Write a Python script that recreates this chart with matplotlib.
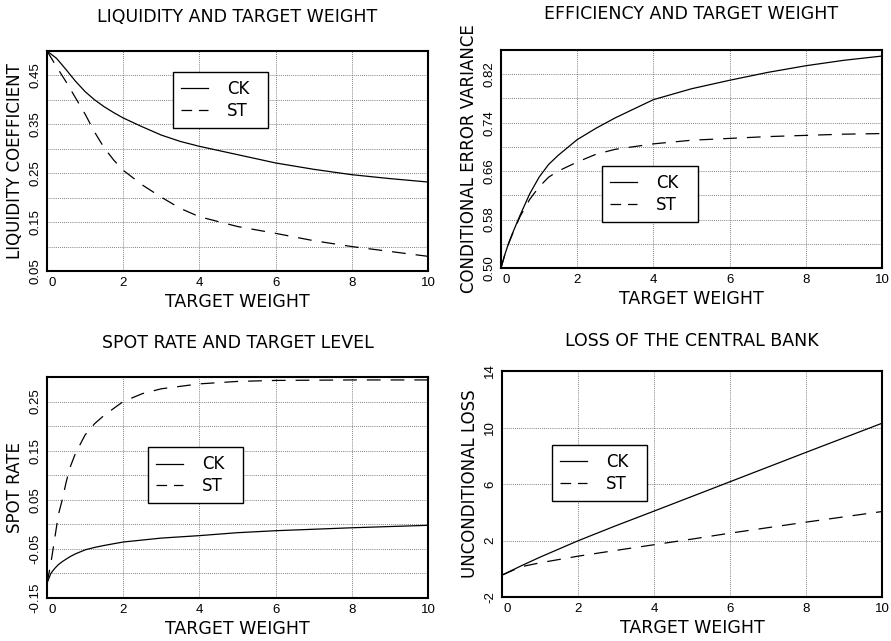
import matplotlib
matplotlib.use("Agg")
import matplotlib.pyplot as plt
import matplotlib.transforms as mtrans
import numpy as np
from matplotlib.ticker import FixedLocator

plt.rcParams['font.family'] = ['DejaVu Sans']

W, H = 891, 641

# ---- data ----
x_liq = [0, 0.25, 0.5, 0.75, 1, 1.25, 1.5, 1.75, 2, 2.5, 3, 3.5, 4, 5, 6, 7, 8, 9, 10]
liq_ck = [0.500, 0.485, 0.462, 0.438, 0.417, 0.400, 0.386, 0.374, 0.363, 0.345, 0.328,
          0.315, 0.305, 0.288, 0.271, 0.258, 0.247, 0.239, 0.232]
liq_st = [0.500, 0.468, 0.437, 0.404, 0.371, 0.334, 0.302, 0.277, 0.256, 0.226, 0.201,
          0.178, 0.161, 0.141, 0.127, 0.112, 0.100, 0.090, 0.080]

x_eff = [0, 0.1, 0.2, 0.3, 0.5, 0.75, 1, 1.25, 1.5, 2, 2.5, 3, 4, 5, 6, 7, 8, 9, 10]
eff_ck = [0.500, 0.522, 0.541, 0.557, 0.587, 0.622, 0.650, 0.671, 0.686, 0.712, 0.731,
          0.748, 0.778, 0.796, 0.810, 0.823, 0.834, 0.843, 0.850]
eff_st = [0.500, 0.522, 0.540, 0.556, 0.585, 0.613, 0.634, 0.650, 0.660, 0.675, 0.688,
          0.696, 0.705, 0.711, 0.714, 0.717, 0.719, 0.721, 0.722]

x_spot = [0, 0.1, 0.2, 0.3, 0.4, 0.5, 0.6, 0.75, 1, 1.25, 1.5, 2, 2.5, 3, 4, 5, 6, 8, 10]
spot_ck = [-0.120, -0.100, -0.090, -0.082, -0.076, -0.071, -0.066, -0.060, -0.052, -0.047,
           -0.043, -0.036, -0.032, -0.028, -0.023, -0.017, -0.013, -0.007, -0.002]
spot_st = [-0.120, -0.080, -0.030, 0.020, 0.050, 0.085, 0.115, 0.145, 0.182, 0.205,
           0.222, 0.250, 0.266, 0.276, 0.286, 0.291, 0.293, 0.294, 0.294]

x_loss = [0, 0.5, 1, 2, 3, 4, 5, 6, 8, 10]
loss_ck = [-0.45, 0.20, 0.82, 1.98, 3.05, 4.08, 5.12, 6.16, 8.24, 10.30]
loss_st = [-0.45, 0.14, 0.42, 0.89, 1.30, 1.70, 2.10, 2.52, 3.30, 4.05]

titles = ["LIQUIDITY AND TARGET WEIGHT", "EFFICIENCY AND TARGET WEIGHT",
          "SPOT RATE AND TARGET LEVEL", "LOSS OF THE CENTRAL BANK"]
ylabels = ["LIQUIDITY COEFFICIENT", "CONDITIONAL ERROR VARIANCE",
           "SPOT RATE", "UNCONDITIONAL LOSS"]
xlabel = "TARGET WEIGHT"
series_names = ["CK", "ST"]
x_ticks = [0, 2, 4, 6, 8, 10]

fig = plt.figure(figsize=(W / 100, H / 100), dpi=100)


def px_axes(left, right, top, bottom):
    return fig.add_axes([left / W, (H - bottom) / H, (right - left) / W, (bottom - top) / H])


panels = [
    dict(box=(47, 428, 51, 271), x=x_liq, ck=liq_ck, st=liq_st, ylim=(0.05, 0.50),
         major=[0.05, 0.15, 0.25, 0.35, 0.45], grid=0.05, fmt="{:.2f}",
         leg=(0.331, 0.905, 0.249), tpad=21),
    dict(box=(501, 882, 50, 268), x=x_eff, ck=eff_ck, st=eff_st, ylim=(0.50, 0.86),
         major=[0.50, 0.58, 0.66, 0.74, 0.82], grid=0.04, fmt="{:.2f}",
         leg=(0.265, 0.468, 0.252), tpad=22.5),
    dict(box=(47, 428, 377, 598), x=x_spot, ck=spot_ck, st=spot_st, ylim=(-0.15, 0.30),
         major=[-0.15, -0.05, 0.05, 0.15, 0.25], grid=0.05, fmt="{:.2f}",
         leg=(0.265, 0.683, 0.249), tpad=21),
    dict(box=(502, 882, 371, 597), x=x_loss, ck=loss_ck, st=loss_st, ylim=(-2, 14),
         major=[-2, 2, 6, 10, 14], grid=4, fmt="{:g}",
         leg=(0.132, 0.673, 0.25), tpad=18),
]

grid_kw = dict(color='#555555', linestyle=(0, (1, 1.5)), linewidth=0.6)
tick_font = dict(family='Liberation Sans', size=9.5)

for i, p in enumerate(panels):
    ax = px_axes(*p['box'])
    ax.plot(p['x'], p['ck'], color='black', lw=0.9, label=series_names[0], zorder=3)
    ax.plot(p['x'], p['st'], color='black', lw=0.9, dashes=(11, 8), label=series_names[1], zorder=3)
    ax.set_xlim(0, 10)
    ax.set_ylim(*p['ylim'])
    ax.set_xticks(x_ticks)
    ax.set_xticklabels([str(v) for v in x_ticks], fontdict=tick_font)
    ax.yaxis.set_major_locator(FixedLocator(p['major']))
    ax.set_yticklabels([p['fmt'].format(v) for v in p['major']], rotation=90,
                       va='center', fontdict=tick_font)
    lo, hi = p['ylim']
    gl = np.arange(lo, hi + 1e-9, p['grid'])
    for g in gl[1:-1]:
        ax.axhline(g, **grid_kw, zorder=0)
    for g in x_ticks[1:-1]:
        ax.axvline(g, **grid_kw, zorder=0)
    ax.tick_params(length=0, pad=4)
    for s in ax.spines.values():
        s.set_linewidth(1.5)
    ax.set_title(titles[i], fontsize=12.5, pad=p['tpad'])
    ax.set_xlabel(xlabel, fontsize=12.5, labelpad=3)
    ax.set_ylabel(ylabels[i], fontsize=12, labelpad=4)
    lbl0 = ax.get_xticklabels()[0]
    lbl0.set_transform(lbl0.get_transform() + mtrans.ScaledTranslation(5 / 100, 0, fig.dpi_scale_trans))
    lx, ltop, lw = p['leg']
    leg = ax.legend(loc='upper left', bbox_to_anchor=(lx, ltop - 0.3, lw, 0.3), mode='expand',
                    fontsize=12, frameon=True, fancybox=False, handlelength=1.6,
                    handletextpad=1.15, borderpad=0.5, labelspacing=0.2, borderaxespad=0)
    leg.get_lines()[1].set_dashes((8.5, 5.5))
    leg.get_frame().set_edgecolor('black')
    leg.get_frame().set_linewidth(1.0)
    leg.get_frame().set_alpha(1)
    leg.set_zorder(5)

fig.savefig("out.png", dpi=100)
